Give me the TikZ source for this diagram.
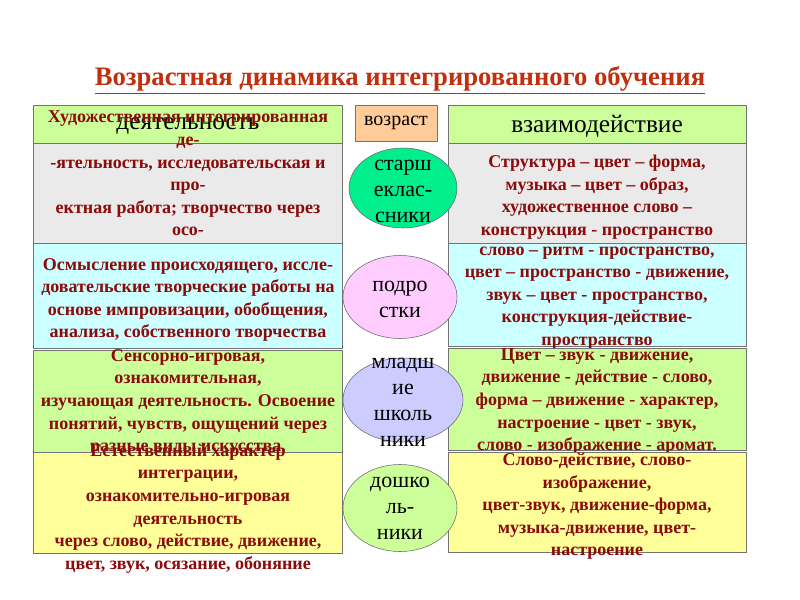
\documentclass[tikz,border=0pt]{standalone}
\usepackage{fontspec}
\setmainfont{Liberation Serif}
\usepackage{xcolor}
\usepackage{tikz}
\usetikzlibrary{shapes.geometric, positioning}
\definecolor{titlered}{HTML}{C0300F}
\definecolor{textred}{HTML}{8B0A0A}
\definecolor{lightgreen}{HTML}{CCFF99}
\definecolor{lightgray}{HTML}{EAEAEA}
\definecolor{lightcyan}{HTML}{CCFFFF}
\definecolor{lightyellow}{HTML}{FFFF99}
\definecolor{peach}{HTML}{FFCC99}
\definecolor{springgreen}{HTML}{00EE8C}
\definecolor{softpink}{HTML}{FFCCFF}
\definecolor{lavender}{HTML}{CCCCFF}
\definecolor{bordergray}{HTML}{737373}

\begin{document}
\begin{tikzpicture}[x=0.75pt, y=-0.75pt,
  block/.style={rectangle, draw=bordergray, inner sep=0pt},
  leftblock/.style={block, minimum width=231.75pt},
  rightblock/.style={block, minimum width=223.5pt},
  content/.style={align=center, text=textred, font=\fontsize{13.5}{16.9}\selectfont\bfseries},
  head/.style={font=\fontsize{19}{22}\selectfont},
  age/.style={ellipse, draw=black!60, inner sep=0pt},
  agetext/.style={align=center, font=\fontsize{16.5}{19.5}\selectfont}]
    \fill[white] (0,0) rectangle (800,600);
    \useasboundingbox (0,0) rectangle (800,600);

    \node (title) at (400,80) [text=titlered, font=\fontsize{20}{23}\selectfont\bfseries] {\underline{Возрастная динамика интегрированного обучения}};

    % headers
    \node (acthead) at (187.5,124) [leftblock, minimum height=28.5pt, fill=lightgreen] {};
    \node (actheadtext) at (188,126) [head] {деятельность};
    \node (agehead) at (396,123) [block, minimum width=61.5pt, minimum height=27pt, fill=peach, font=\fontsize{15}{18}\selectfont] {возраст};
    \node (inthead) at (597,124) [rightblock, minimum height=28.5pt, fill=lightgreen] {};
    \node (intheadtext) at (597,126) [head] {взаимодействие};

    % seniors
    \node (act1) at (187.5,193) [leftblock, minimum height=75pt, fill=lightgray] {};
    \node (act1text) at (188,173.5) [content] {Художественная интегрированная\\де-\\-ятельность, исследовательская и\\про-\\ектная работа; творчество через\\осо-};
    \node (int1) at (597,193) [rightblock, minimum height=75pt, fill=lightgray] {};
    \node (int1text) at (597,197) [content] {Структура – цвет – форма,\\музыка – цвет – образ,\\художественное слово –\\конструкция - пространство};

    % teenagers
    \node (act2) at (187.5,295.5) [leftblock, minimum height=78.75pt, fill=lightcyan] {};
    \node (act2text) at (188,300) [content] {Осмысление происходящего, иссле-\\довательские творческие работы на\\основе импровизации, обобщения,\\анализа, собственного творчества};
    \node (int2) at (597,294.5) [rightblock, minimum height=77.25pt, fill=lightcyan] {};
    \node (int2text) at (597,298) [content] {слово – ритм - пространство,\\цвет – пространство - движение,\\звук – цвет - пространство,\\конструкция-действие-\\пространство};

    % juniors
    \node (act3) at (187.5,401) [leftblock, minimum height=76.5pt, fill=lightgreen] {};
    \node (act3text) at (188,402.5) [content] {Сенсорно-игровая,\\ознакомительная,\\изучающая деятельность. Освоение\\понятий, чувств, ощущений через\\разные виды искусства.};
    \node (int3) at (597,399) [rightblock, minimum height=76.5pt, fill=lightgreen] {};
    \node (int3text) at (597,401.5) [content] {Цвет – звук - движение,\\движение - действие - слово,\\форма – движение - характер,\\настроение - цвет - звук,\\слово - изображение - аромат.};

    % preschool
    \node (act4) at (187.5,502.5) [leftblock, minimum height=75.75pt, fill=lightyellow] {};
    \node (act4text) at (188,508.5) [content] {Естественный характер\\интеграции,\\ознакомительно-игровая\\деятельность\\через слово, действие, движение,\\цвет, звук, осязание, обоняние};
    \node (int4) at (597,502) [rightblock, minimum height=75pt, fill=lightyellow] {};
    \node (int4text) at (597,506.5) [content] {Слово-действие, слово-\\изображение,\\цвет-звук, движение-форма,\\музыка-движение, цвет-\\настроение};

    % age groups
    \node (senior) at (403,188) [age, minimum width=81pt, minimum height=60pt, fill=springgreen] {};
    \node (teen) at (400,297) [age, minimum width=85.5pt, minimum height=62.25pt, fill=softpink] {};
    \node (junior) at (403,400) [age, minimum width=90pt, minimum height=63pt, fill=lavender] {};
    \node (preschool) at (400,508) [age, minimum width=85.5pt, minimum height=65.25pt, fill=lightgreen] {};
    \node (seniortext) at (403,191.5) [agetext] {старш\\еклас-\\сники};
    \node (teentext) at (400,299.5) [agetext] {подро\\стки};
    \node (juniortext) at (403,402.5) [agetext] {младш\\ие\\школь\\ники};
    \node (preschooltext) at (400,508.5) [agetext] {дошко\\ль-\\ники};
\end{tikzpicture}
\end{document}
